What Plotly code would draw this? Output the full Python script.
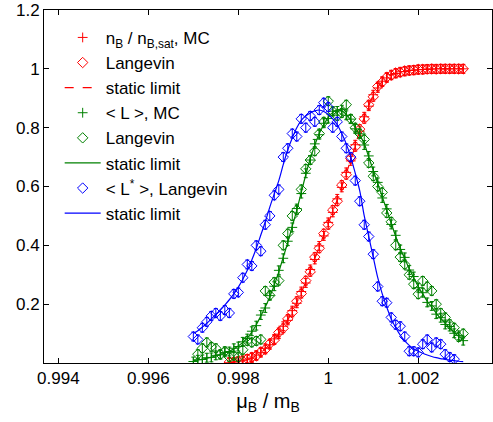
import plotly.graph_objects as go

# ---------------- data ----------------
red_x = [0.9978, 0.9979, 0.9980, 0.9981, 0.9982, 0.9983, 0.9984, 0.9985, 0.9986, 0.9987,
         0.9988, 0.9989, 0.9990, 0.9991, 0.9992, 0.9993, 0.9994, 0.9995, 0.9996, 0.9997,
         0.9998, 0.9999, 1.0000, 1.0001, 1.0002, 1.0003, 1.0004, 1.0005, 1.0006, 1.0007,
         1.0008, 1.0009, 1.0010, 1.0011, 1.0012, 1.0013, 1.0014, 1.0015, 1.0016, 1.0017,
         1.0018, 1.0019, 1.0020, 1.0021, 1.0022, 1.0023, 1.0024, 1.0025, 1.0026, 1.0027,
         1.0028, 1.0029, 1.0030]
red_static = [0.002, 0.003, 0.005, 0.008, 0.012, 0.018, 0.026, 0.036, 0.048, 0.063,
              0.080, 0.100, 0.122, 0.147, 0.175, 0.205, 0.240, 0.275, 0.315, 0.355,
              0.395, 0.435, 0.475, 0.515, 0.555, 0.600, 0.645, 0.690, 0.740, 0.790,
              0.835, 0.875, 0.910, 0.937, 0.957, 0.970, 0.979, 0.985, 0.989, 0.992,
              0.994, 0.996, 0.997, 0.998, 0.999, 0.999, 0.999, 1.000, 1.000, 1.000,
              1.000, 1.000, 1.000]
red_mc = [0.001, 0.004, 0.006, 0.009, 0.013, 0.017, 0.027, 0.035, 0.050, 0.062,
          0.082, 0.098, 0.125, 0.145, 0.178, 0.203, 0.243, 0.272, 0.318, 0.352,
          0.398, 0.432, 0.478, 0.512, 0.558, 0.597, 0.648, 0.687, 0.742, 0.788,
          0.837, 0.873, 0.912, 0.935, 0.958, 0.969, 0.980, 0.984, 0.990, 0.991,
          0.995, 0.995, 0.997, 0.998, 0.999, 0.999, 1.000, 1.000, 1.000, 1.000,
          1.000, 1.000, 1.000]
red_lang = [0.003, 0.002, 0.006, 0.007, 0.014, 0.020, 0.024, 0.038, 0.046, 0.066,
            0.078, 0.104, 0.118, 0.150, 0.172, 0.210, 0.236, 0.280, 0.310, 0.360,
            0.390, 0.440, 0.470, 0.520, 0.550, 0.605, 0.640, 0.695, 0.735, 0.795,
            0.830, 0.878, 0.905, 0.940, 0.955, 0.972, 0.978, 0.986, 0.988, 0.993,
            0.994, 0.996, 0.998, 0.998, 0.999, 1.000, 0.999, 1.000, 1.000, 1.000,
            1.000, 1.000, 1.000]

gb_x = [0.9970, 0.9971, 0.9972, 0.9973, 0.9974, 0.9975, 0.9976, 0.9977, 0.9978, 0.9979,
        0.9980, 0.9981, 0.9982, 0.9983, 0.9984, 0.9985, 0.9986, 0.9987, 0.9988, 0.9989,
        0.9990, 0.9991, 0.9992, 0.9993, 0.9994, 0.9995, 0.9996, 0.9997, 0.9998, 0.9999,
        1.0000, 1.0001, 1.0002, 1.0003, 1.0004, 1.0005, 1.0006, 1.0007, 1.0008, 1.0009,
        1.0010, 1.0011, 1.0012, 1.0013, 1.0014, 1.0015, 1.0016, 1.0017, 1.0018, 1.0019,
        1.0020, 1.0021, 1.0022, 1.0023, 1.0024, 1.0025, 1.0026, 1.0027, 1.0028, 1.0029,
        1.0030]
green_static = [0.008, 0.010, 0.013, 0.016, 0.020, 0.024, 0.029, 0.034, 0.040, 0.048,
                0.058, 0.070, 0.085, 0.105, 0.130, 0.160, 0.190, 0.225, 0.265, 0.310,
                0.360, 0.410, 0.465, 0.520, 0.580, 0.640, 0.695, 0.740, 0.780, 0.810,
                0.835, 0.852, 0.860, 0.857, 0.845, 0.825, 0.800, 0.775, 0.745, 0.700,
                0.655, 0.610, 0.565, 0.520, 0.475, 0.430, 0.390, 0.355, 0.320, 0.290,
                0.260, 0.235, 0.210, 0.190, 0.170, 0.150, 0.135, 0.120, 0.105, 0.090,
                0.080]
green_mc = [0.005, 0.011, 0.012, 0.018, 0.019, 0.026, 0.028, 0.036, 0.039, 0.050,
            0.056, 0.072, 0.083, 0.108, 0.127, 0.163, 0.187, 0.229, 0.261, 0.315,
            0.356, 0.414, 0.461, 0.525, 0.576, 0.645, 0.690, 0.745, 0.776, 0.815,
            0.831, 0.856, 0.857, 0.861, 0.842, 0.829, 0.796, 0.779, 0.741, 0.704,
            0.651, 0.614, 0.561, 0.524, 0.471, 0.434, 0.386, 0.359, 0.316, 0.294,
            0.256, 0.239, 0.206, 0.194, 0.166, 0.154, 0.131, 0.124, 0.101, 0.094,
            0.076]
green_lang_x = gb_x[1:]
green_lang = [0.030, 0.050, 0.070, 0.055, 0.050, 0.030, 0.040, 0.020, 0.025, 0.020,
              0.045, 0.075, 0.070, 0.075, 0.080, 0.245, 0.230, 0.275, 0.280, 0.400,
              0.440, 0.500, 0.520, 0.590, 0.660, 0.690, 0.720, 0.780, 0.820, 0.890,
              0.855, 0.840, 0.850, 0.878, 0.830, 0.800, 0.780, 0.760, 0.680, 0.635,
              0.600, 0.580, 0.510, 0.480, 0.400, 0.360, 0.335, 0.300, 0.268, 0.234,
              0.279, 0.260, 0.245, 0.200, 0.170, 0.155, 0.132, 0.120, 0.088, 0.100]

blue_static = [0.100, 0.110, 0.122, 0.135, 0.150, 0.165, 0.180, 0.197, 0.215, 0.235,
               0.258, 0.285, 0.315, 0.350, 0.390, 0.435, 0.480, 0.530, 0.575, 0.620,
               0.675, 0.725, 0.765, 0.800, 0.825, 0.840, 0.850, 0.857, 0.860, 0.855,
               0.845, 0.830, 0.810, 0.780, 0.745, 0.700, 0.645, 0.585, 0.500, 0.430,
               0.360, 0.290, 0.235, 0.190, 0.150, 0.120, 0.095, 0.075, 0.060, 0.048,
               0.040, 0.033, 0.027, 0.022, 0.018, 0.015, 0.012, 0.010, 0.008, 0.006,
               0.005]
blue_lang_x = gb_x[:59]
blue_lang = [0.090, 0.080, 0.120, 0.140, 0.160, 0.170, 0.160, 0.180, 0.170, 0.235,
             0.240, 0.290, 0.335, 0.330, 0.400, 0.380, 0.470, 0.500, 0.570, 0.590,
             0.700, 0.730, 0.780, 0.770, 0.830, 0.800, 0.840, 0.820, 0.860, 0.885,
             0.870, 0.800, 0.820, 0.770, 0.730, 0.700, 0.620, 0.550, 0.470, 0.430,
             0.370, 0.260, 0.210, 0.205, 0.155, 0.130, 0.125, 0.090, 0.040, 0.040,
             0.036, 0.064, 0.080, 0.053, 0.070, 0.064, 0.030, 0.020, 0.013]

x_ticks = [0.994, 0.996, 0.998, 1.0, 1.002]
x_tick_text = ["0.994", "0.996", "0.998", "1", "1.002"]
y_ticks = [0.2, 0.4, 0.6, 0.8, 1.0, 1.2]
y_tick_text = ["0.2", "0.4", "0.6", "0.8", "1", "1.2"]

RED = "#ff0000"
GREEN = "#008000"
BLUE = "#0000ff"
FONT = "Liberation Sans, Arial, Helvetica, sans-serif"

fig = go.Figure()

def err(c):
    return dict(type="constant", value=0.015, color=c, thickness=1, width=2)

def add_markers(x, y, color, symbol, name, grp, size):
    fig.add_trace(go.Scatter(
        x=x, y=y, mode="markers", name=name, legendgroup=grp,
        marker=dict(symbol=symbol, size=size, color=color, line=dict(color=color, width=1)),
        error_y=err(color)))

def add_line(x, y, color, dash, name, grp):
    fig.add_trace(go.Scatter(
        x=x, y=y, mode="lines", name=name, legendgroup=grp,
        line=dict(color=color, width=1.2, dash=dash, shape="spline")))

add_markers(red_x, red_mc, RED, "cross-thin", "n<sub>B</sub> / n<sub>B,sat</sub>, MC", "g1", 7)
add_markers(red_x, red_lang, RED, "diamond-open", "Langevin", "g2", 8)
add_line(red_x, red_static, RED, "dash", "static limit", "g3")
add_markers(gb_x, green_mc, GREEN, "cross-thin", "&lt; L &gt;, MC", "g4", 7)
add_markers(green_lang_x, green_lang, GREEN, "diamond-open", "Langevin", "g5", 8)
add_line(gb_x, green_static, GREEN, "solid", "static limit", "g6")
add_markers(blue_lang_x, blue_lang, BLUE, "diamond-open", "&lt; L<sup>*</sup> &gt;, Langevin", "g7", 8)
add_line(gb_x, blue_static, BLUE, "solid", "static limit", "g8")

axis_common = dict(showline=True, linecolor="black", linewidth=1, mirror="ticks",
                   ticks="inside", ticklen=5, tickcolor="black", showgrid=False,
                   zeroline=False, tickfont=dict(size=17, color="black", family=FONT))

fig.update_layout(
    width=493, height=422,
    margin=dict(l=44, r=1, t=10, b=59),
    paper_bgcolor="white", plot_bgcolor="white",
    font=dict(family=FONT, size=17, color="black"),
    showlegend=True,
    legend=dict(x=0.035, y=0.972, xanchor="left", yanchor="top",
                bgcolor="rgba(0,0,0,0)", borderwidth=0, tracegroupgap=0,
                font=dict(size=17, family=FONT), itemwidth=36),
    xaxis=dict(range=[0.99368, 1.00364], tickvals=x_ticks, ticktext=x_tick_text,
               title=dict(text="μ<sub>B</sub> / m<sub>B</sub>", font=dict(size=20), standoff=6),
               **axis_common),
    yaxis=dict(range=[0, 1.2], tickvals=y_ticks, ticktext=y_tick_text, **axis_common),
)

fig.write_html("out.html", config={"displayModeBar": False})

# remove default page margins so the figure sits at the window origin
with open("out.html", "r", encoding="utf-8") as f:
    html = f.read()
html = html.replace("<head>", "<head><style>html,body{margin:0;padding:0;overflow:hidden;}</style>", 1)
with open("out.html", "w", encoding="utf-8") as f:
    f.write(html)
